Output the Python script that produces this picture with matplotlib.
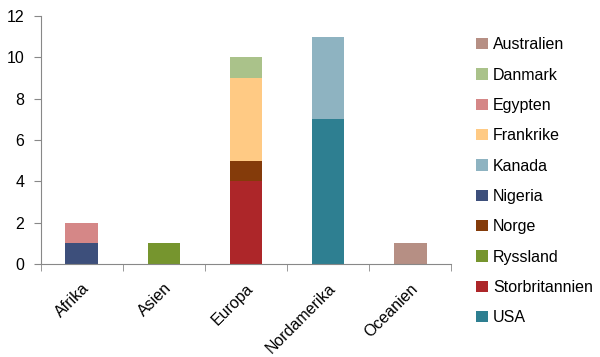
import matplotlib
matplotlib.use("Agg")
import matplotlib.pyplot as plt
import numpy as np

continents = ["Afrika", "Asien", "Europa", "Nordamerika", "Oceanien"]

# series in stacking order (bottom to top)
series_names = ["USA", "Storbritannien", "Ryssland", "Norge", "Nigeria",
                "Kanada", "Frankrike", "Egypten", "Danmark", "Australien"]
usa = [0, 0, 0, 7, 0]
storbritannien = [0, 0, 4, 0, 0]
ryssland = [0, 1, 0, 0, 0]
norge = [0, 0, 1, 0, 0]
nigeria = [1, 0, 0, 0, 0]
kanada = [0, 0, 0, 4, 0]
frankrike = [0, 0, 4, 0, 0]
egypten = [1, 0, 0, 0, 0]
danmark = [0, 0, 1, 0, 0]
australien = [0, 0, 0, 0, 1]
series_values = [usa, storbritannien, ryssland, norge, nigeria,
                 kanada, frankrike, egypten, danmark, australien]
colors = ["#2E7F91", "#AD2629", "#76952E", "#843B0A", "#3D4F7B",
          "#8EB3C1", "#FFCA84", "#D58787", "#AAC28A", "#B68F84"]

plt.rcParams["font.family"] = ["Liberation Sans", "DejaVu Sans"]

fig = plt.figure(figsize=(6.0, 3.57), dpi=100)
ax = fig.add_axes([0.068, 0.2605, 0.684, 0.6945])

x = np.arange(len(continents))
bottom = np.zeros(len(continents))
handles = []
for name, vals, col in zip(series_names, series_values, colors):
    vals = np.array(vals, dtype=float)
    h = ax.bar(x, vals, width=0.4, bottom=bottom, color=col, label=name)
    handles.append(h)
    bottom += vals

ax.set_xlim(-0.5, len(continents) - 0.5)
ax.set_ylim(0, 12)
ax.set_yticks(range(0, 13, 2))
ax.set_xticks(x)
ax.set_xticklabels(continents, rotation=45, ha="right", rotation_mode="anchor")
ax.set_xticks(np.arange(-0.5, len(continents)), minor=True)
ax.tick_params(axis="x", which="major", length=0, pad=12, labelsize=11.5)
ax.tick_params(axis="x", which="minor", length=5, color="#888888")
ax.tick_params(axis="y", length=5, color="#888888", labelsize=11.5, pad=7)

for side in ("top", "right"):
    ax.spines[side].set_visible(False)
for side in ("left", "bottom"):
    ax.spines[side].set_color("#888888")

leg = fig.legend(handles[::-1], series_names[::-1], loc="upper left",
                 bbox_to_anchor=(0.77, 0.936), frameon=False,
                 fontsize=11.5, handlelength=0.7, handleheight=0.7,
                 handletextpad=0.35, labelspacing=0.96)

fig.savefig("out.png", dpi=100)
plt.close(fig)
